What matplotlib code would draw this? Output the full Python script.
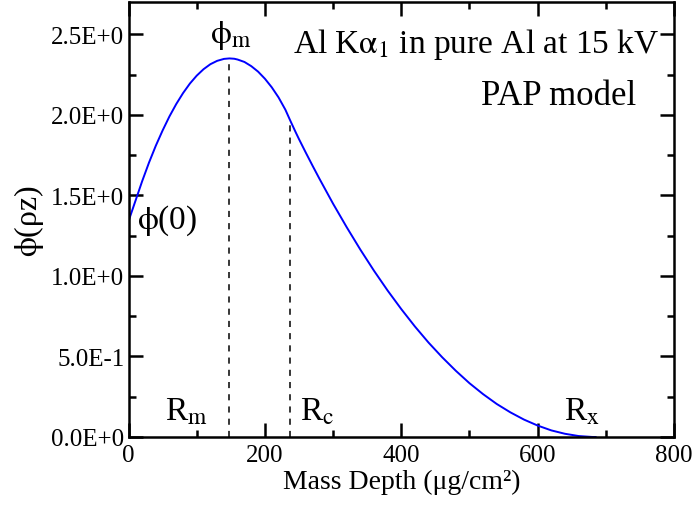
import matplotlib
matplotlib.use("Agg")
import matplotlib.pyplot as plt
from matplotlib.ticker import MultipleLocator, FixedLocator, FixedFormatter

plt.rcParams['font.family'] = ['Liberation Serif', 'DejaVu Serif']
plt.rcParams['mathtext.fontset'] = 'stix'

# phi(rho z) curve (PAP model, Al Ka1 in Al, 15 kV)
depth = [0, 10, 20, 30, 40, 50, 60, 70, 80, 90, 100, 110, 120, 130, 140,
         148, 155, 160, 170, 180, 190, 200, 210, 220, 230, 237, 245, 250,
         260, 270, 280, 300, 320, 340, 360, 380, 400, 420, 440, 460, 480,
         500, 520, 540, 560, 580, 600, 620, 640, 660, 680, 685]
phi = [1.34, 1.464, 1.588, 1.703, 1.808, 1.903, 1.990, 2.067, 2.135, 2.194,
       2.243, 2.283, 2.314, 2.335, 2.347, 2.350, 2.348, 2.343, 2.328, 2.302,
       2.268, 2.224, 2.171, 2.108, 2.032, 1.966, 1.893, 1.849, 1.765, 1.683,
       1.603, 1.448, 1.302, 1.163, 1.032, 0.909, 0.794, 0.686, 0.586, 0.495,
       0.411, 0.334, 0.266, 0.205, 0.153, 0.108, 0.071, 0.041, 0.020, 0.006,
       0.0002, 0.0]

r_m, phi_m = 148, 2.350
r_c, phi_c = 237, 1.966

yticks = [0.0, 0.5, 1.0, 1.5, 2.0, 2.5]
ylabels = ['0.0E+0', '5.0E-1', '1.0E+0', '1.5E+0', '2.0E+0', '2.5E+0']

fig = plt.figure(figsize=(6.94, 5.06), dpi=100)
ax = fig.add_axes([0.1852, 0.1344, 0.786, 0.8596])

ax.plot(depth, phi, color='#0000ff', lw=1.4)
ax.plot([r_m, r_m], [0, phi_m], color='black', lw=1.1, ls=(0, (4, 4)))
ax.plot([r_c, r_c], [0, phi_c], color='black', lw=1.1, ls=(0, (4, 4)))

ax.set_xlim(0, 800)
ax.set_ylim(0, 2.7)
ax.xaxis.set_major_locator(MultipleLocator(200))
ax.xaxis.set_minor_locator(MultipleLocator(100))
ax.yaxis.set_major_locator(FixedLocator(yticks))
ax.yaxis.set_major_formatter(FixedFormatter(ylabels))
ax.yaxis.set_minor_locator(MultipleLocator(0.25))

ax.tick_params(which='both', direction='in', top=True, right=True, width=1.8,
               labelsize=18)
ax.tick_params(which='major', length=10)
ax.tick_params(which='minor', length=5)
ax.tick_params(axis='x', pad=5)
ax.tick_params(axis='y', pad=3)
for s in ax.spines.values():
    s.set_linewidth(1.8)

ax.set_xlabel('Mass Depth (μg/cm²)', fontsize=20, labelpad=2)
ax.set_ylabel(r'$\mathrm{\phi}$(ρz)', fontsize=23, labelpad=4)

ax.text(150, 2.50, r'$\mathrm{\phi}_{\rm m}$', fontsize=24, ha='center', va='center')
ax.text(779, 2.44, r'Al K$\mathrm{\alpha}_1$ in pure Al at 15 kV', fontsize=24,
        ha='right', va='center')
ax.text(745, 2.12, 'PAP model', fontsize=25, ha='right', va='center')
ax.text(13, 1.35, r'$\mathrm{\phi}$(0)', fontsize=24, ha='left', va='center')
ax.text(53, 0.16, r'R$_{\rm m}$', fontsize=24, ha='left', va='center')
ax.text(252, 0.16, r'R$_{\rm c}$', fontsize=24, ha='left', va='center')
ax.text(639, 0.16, r'R$_{\rm x}$', fontsize=24, ha='left', va='center')

fig.savefig('out.png', dpi=100)
